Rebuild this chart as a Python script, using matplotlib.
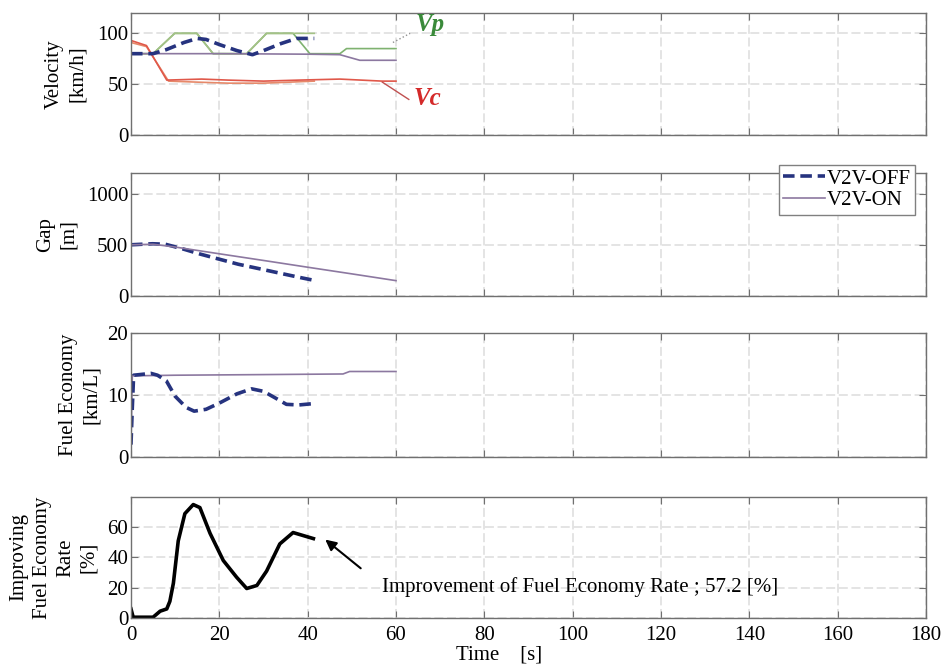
import numpy as np
import matplotlib
matplotlib.use('Agg')
import matplotlib.pyplot as plt

plt.rcParams['font.family'] = ['Liberation Serif', 'DejaVu Serif']
plt.rcParams['font.size'] = 15

# ---- data ----
# velocity panel
t_vp_off = [0, 5.0, 9.9, 14.9, 18.6, 26.2, 30.7, 36.7, 41.5]
vp_off = [80, 80, 100, 100, 80, 80, 100, 100, 100]
t_vp_on = [0, 5.0, 9.9, 14.9, 18.6, 26.2, 30.7, 36.7, 40.5, 47.3, 48.8, 60]
vp_on = [80, 80, 100, 100, 80, 80, 100, 100, 80, 80, 85, 85]

t_v_off = [0, 5, 8, 12, 15, 17, 20, 24, 27.5, 30, 34, 37.5, 41.5]
v_off = [80, 80, 84, 91, 95, 94, 89, 83, 79, 83, 90, 95, 95]
t_v_on = [0, 20, 40, 47.3, 51.8, 60]
v_on = [80, 80, 79.5, 79, 73.5, 73.5]

t_vc_on = [0, 3.5, 8.1, 16, 22, 30, 38, 47.3, 56.9, 60]
vc_on = [93, 88, 54, 55, 54, 53, 54, 55, 53, 53]
t_vc_off = [0, 3.5, 8.5, 15, 22, 30, 36, 41.5]
vc_off = [91, 87, 53, 52, 51, 51, 52, 53]

# gap panel
t_gap_off = [0, 4.9, 7.8, 11.7, 15.6, 19.5, 24.3, 29.2, 34, 38.9, 41.2]
gap_off = [500, 510, 505, 460, 410, 365, 310, 265, 220, 175, 155]
t_gap_on = [0, 5, 10, 20, 30, 40, 50, 60]
gap_on = [500, 505, 478, 412, 347, 281, 216, 150]

# fuel economy panel
t_fe_off = [0, 0.3, 0.6, 2, 4.5, 6, 8, 10, 12.5, 14.3, 17, 20, 24, 27.3, 30, 33, 35.2, 38, 41]
fe_off = [2, 8, 13.2, 13.3, 13.5, 13.2, 12.3, 9.8, 8, 7.4, 7.7, 8.7, 10.2, 11, 10.6, 9.4, 8.5, 8.4, 8.6]
t_fe_on = [0, 0.3, 10, 30, 48, 49.5, 60]
fe_on = [2, 13.1, 13.2, 13.3, 13.4, 13.8, 13.8]

# improving fuel economy rate
t_imp = [0, 0.5, 5.0, 6.6, 8.1, 8.8, 9.6, 10.7, 12.2, 14.1, 15.6, 17.9, 20.9,
         23.9, 26.2, 28.5, 30.7, 33.7, 36.7, 41.3]
imp = [6, 0.5, 0.5, 4.5, 6, 11, 23, 51, 69, 75, 73, 56, 38, 27, 19.5, 21.5,
       31, 49, 56.5, 52.5]

xticks = list(range(0, 181, 20))

fig = plt.figure(figsize=(9.43, 6.64), dpi=100)
left, width = 0.1389, 0.8431
ax1 = fig.add_axes([left, 0.7967, width, 0.1837])
ax2 = fig.add_axes([left, 0.5542, width, 0.1852])
ax3 = fig.add_axes([left, 0.3117, width, 0.1867])
ax4 = fig.add_axes([left, 0.0693, width, 0.1822])

c_off = '#26337f'
c_on = '#8c78a0'
dash = (0, (3.2, 1.6))

# velocity
ax1.plot(t_vp_on, vp_on, color='#7fb270', lw=1.2)
ax1.plot(t_vp_off, vp_off, color='#a4c286', lw=1.2)
ax1.plot(t_vc_off, vc_off, color='#e6896a', lw=1.2)
ax1.plot(t_vc_on, vc_on, color='#e0584a', lw=1.2)
ax1.plot(t_v_on, v_on, color=c_on, lw=1.2)
ax1.plot(t_v_off, v_off, color=c_off, lw=2.6, linestyle=dash)
ax1.plot([59.3, 63.2], [91, 100], color='#909090', lw=1, linestyle=':')
ax1.plot([56.9, 62.9], [52, 35], color='#c05050', lw=1)
ax1.text(67.7, 109, 'Vp', color='#3a8a3a', fontsize=18, fontweight='bold',
         fontstyle='italic', ha='center', va='center')
ax1.text(67.2, 36, 'Vc', color='#d42a2a', fontsize=18, fontweight='bold',
         fontstyle='italic', ha='center', va='center')
ax1.set_ylim(0, 120)
ax1.set_yticks([0, 50, 100])
ax1.set_ylabel('Velocity\n[km/h]')

# gap
ax2.plot(t_gap_off, gap_off, color=c_off, lw=2.6, linestyle=dash, label='V2V-OFF')
ax2.plot(t_gap_on, gap_on, color=c_on, lw=1.2, label='V2V-ON')
ax2.set_ylim(0, 1200)
ax2.set_yticks([0, 500, 1000])
ax2.set_ylabel('Gap\n[m]')
leg = ax2.legend(loc='upper right', bbox_to_anchor=(0.9703, 0.7515),
                 bbox_transform=fig.transFigure, borderaxespad=0,
                 fancybox=False, framealpha=1, edgecolor='#808080',
                 handlelength=2.0, handletextpad=0.1, borderpad=0.2,
                 labelspacing=0.1, fontsize=15)
leg.get_frame().set_linewidth(1.0)

# fuel economy
ax3.plot(t_fe_on, fe_on, color=c_on, lw=1.2)
ax3.plot(t_fe_off, fe_off, color=c_off, lw=2.6, linestyle=dash)
ax3.set_ylim(0, 20)
ax3.set_yticks([0, 10, 20])
ax3.set_ylabel('Fuel Economy\n[km/L]')

# improving rate
ax4.plot(t_imp, imp, color='black', lw=2.6)
ax4.set_ylim(0, 80)
ax4.set_yticks([0, 20, 40, 60])
ax4.set_ylabel('Improving\nFuel Economy\nRate\n[%]')
ax4.annotate('', xy=(43.5, 53), xytext=(52.5, 31.7),
             arrowprops=dict(arrowstyle='-|>', color='black', lw=1.5,
                             mutation_scale=16))
ax4.text(56.8, 20.5, 'Improvement of Fuel Economy Rate ; 57.2 [%]',
         ha='left', va='center', fontsize=15)
ax4.set_xlabel('Time    [s]')
ax4.xaxis.set_label_coords((499 - 131) / 795, -0.31)
ax4.xaxis.label.set_va('center')

label_x = {ax1: (66 - 131) / 795, ax2: (57 - 131) / 795,
           ax3: (80 - 131) / 795, ax4: (54 - 131) / 795}
for ax in (ax1, ax2, ax3, ax4):
    ax.set_xlim(0, 180)
    ax.set_xticks(xticks)
    ax.grid(True, color='#e2e2e2', lw=1.3, linestyle=(0, (5, 2)))
    ax.set_axisbelow(True)
    ax.tick_params(direction='in', top=True, right=True, length=5,
                   color='#707070', labelsize=15, pad=2)
    ax.tick_params(axis='x', pad=6)
    for s in ax.spines.values():
        s.set_color('#707070')
        s.set_linewidth(1.0)
    ax.yaxis.label.set_linespacing(1.3)
    ax.yaxis.label.set_va('center')
    ax.yaxis.set_label_coords(label_x[ax], 0.5)
    if ax is not ax4:
        ax.tick_params(labelbottom=False)

fig.savefig('out.png', dpi=100)
